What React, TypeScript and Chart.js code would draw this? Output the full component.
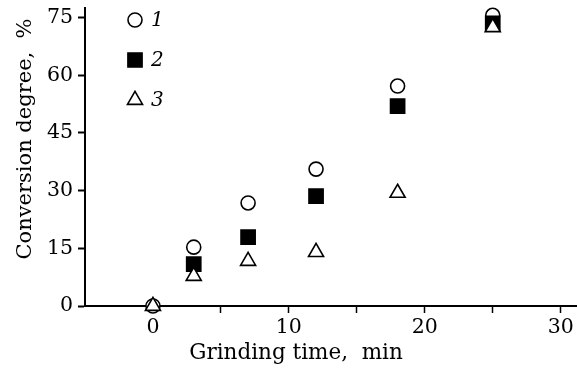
import React, { useEffect, useRef } from "react";
import { Chart, registerables } from "chart.js";

Chart.register(...registerables);

// Grinding time (min) and conversion degree (%)
const series1X = [0, 3, 7, 12, 18, 25];
const series1Y = [0, 15.3, 26.8, 35.6, 57.2, 75.6];
const series2X = [3, 7, 12, 18, 25];
const series2Y = [10.9, 17.9, 28.6, 52.0, 73.5];
const series3X = [0, 3, 7, 12, 18, 25];
const series3Y = [0, 7.8, 11.7, 14.0, 29.4, 72.5];

const seriesLabels = ["1", "2", "3"];
const xTicks = [0, 5, 10, 15, 20, 25, 30];
const xTickLabels = ["0", "", "10", "", "20", "", "30"];
const yTicks = [0, 15, 30, 45, 60, 75];
const xTitle = "Grinding time,  min";
const yTitle = "Conversion degree,  %";

const FONT = '"DejaVu Serif", serif';

const toPts = (xs: number[], ys: number[]) => xs.map((x, i) => ({ x, y: ys[i] }));

export default function App() {
  const ref = useRef<HTMLCanvasElement | null>(null);

  useEffect(() => {
    document.body.style.margin = "0";
    const canvas = ref.current;
    if (!canvas) return;

    const markerStyles = [
      { pointStyle: "circle", radius: 7, bg: "#fff" },
      { pointStyle: "rect", radius: 10, bg: "#000" },
      { pointStyle: "triangle", radius: 8.7, bg: "#fff" },
    ];

    function drawMarker(ctx: CanvasRenderingContext2D, style: string, r: number, x: number, y: number) {
      ctx.beginPath();
      if (style === "circle") {
        ctx.arc(x, y, r, 0, Math.PI * 2);
      } else if (style === "rect") {
        const s = Math.SQRT1_2 * r;
        ctx.rect(x - s, y - s, 2 * s, 2 * s);
      } else {
        const a = -Math.PI / 2;
        for (let k = 0; k < 3; k++) {
          const ang = a + (k * 2 * Math.PI) / 3;
          const px = x + Math.cos(ang) * r;
          const py = y + Math.sin(ang) * r;
          if (k === 0) ctx.moveTo(px, py);
          else ctx.lineTo(px, py);
        }
        ctx.closePath();
      }
      ctx.fill();
      ctx.stroke();
    }

    const legendPlugin = {
      id: "customLegendTitles",
      afterDraw(chart: any) {
        const ctx = chart.ctx;
        ctx.save();
        const lx = 135;
        const ly = [20, 60, 100];
        markerStyles.forEach((m, i) => {
          ctx.save();
          ctx.fillStyle = m.bg;
          ctx.strokeStyle = "#000";
          ctx.lineWidth = 1.6;
          drawMarker(ctx, m.pointStyle, m.radius, lx, ly[i]);
          ctx.restore();
          ctx.fillStyle = "#000";
          ctx.font = `italic 20px ${FONT}`;
          ctx.textAlign = "left";
          ctx.textBaseline = "middle";
          ctx.fillText(seriesLabels[i], 151, ly[i] + 1);
        });
        ctx.fillStyle = "#000";
        ctx.font = `21.5px ${FONT}`;
        ctx.textAlign = "center";
        ctx.textBaseline = "alphabetic";
        ctx.fillText(xTitle, 296, 359);
        ctx.save();
        ctx.font = `21px ${FONT}`;
        ctx.translate(31, 139);
        ctx.rotate(-Math.PI / 2);
        ctx.fillText(yTitle, 0, 0);
        ctx.restore();
        ctx.restore();
      },
    };

    const mk = (label: string, data: any[], i: number, order: number) => ({
      label,
      data,
      pointStyle: markerStyles[i].pointStyle,
      pointRadius: markerStyles[i].radius,
      pointBackgroundColor: markerStyles[i].bg,
      pointBorderColor: "#000",
      pointBorderWidth: 1.6,
      showLine: false,
      clip: false as any,
      order,
    });

    const chart = new Chart(canvas, {
      type: "scatter",
      data: {
        datasets: [
          mk(seriesLabels[0], toPts(series1X, series1Y), 0, 3),
          mk(seriesLabels[1], toPts(series2X, series2Y), 1, 2),
          mk(seriesLabels[2], toPts(series3X, series3Y), 2, 1),
        ],
      },
      options: {
        responsive: false,
        animation: false,
        layout: { autoPadding: false, padding: { top: 8, right: 0, left: 0, bottom: 0 } },
        plugins: { legend: { display: false }, tooltip: { enabled: false } },
        scales: {
          x: {
            type: "linear",
            min: -5,
            max: 31.2,
            afterBuildTicks: (axis: any) => {
              axis.ticks = xTicks.map((v) => ({ value: v }));
            },
            afterFit: (scale: any) => {
              scale.height = 63;
              scale.paddingRight = 0;
              scale.paddingLeft = 0;
            },
            ticks: {
              color: "#000",
              font: { family: FONT, size: 20.5 },
              padding: 2,
              maxRotation: 0,
              autoSkip: false,
              callback: (v: any) => {
                const i = xTicks.indexOf(Number(v));
                return i >= 0 ? xTickLabels[i] : "";
              },
            },
            grid: {
              drawOnChartArea: false,
              drawTicks: true,
              tickLength: 7,
              tickWidth: 1.5,
              tickColor: "#000",
            },
            border: { display: true, color: "#000", width: 2 },
          },
          y: {
            type: "linear",
            min: 0,
            max: 77.5,
            afterBuildTicks: (axis: any) => {
              axis.ticks = yTicks.map((v) => ({ value: v }));
            },
            afterFit: (scale: any) => {
              scale.width = 85;
              scale.paddingTop = 0;
              scale.paddingBottom = 0;
            },
            ticks: {
              color: "#000",
              font: { family: FONT, size: 20.5 },
              padding: 5,
              autoSkip: false,
            },
            grid: {
              drawOnChartArea: false,
              drawTicks: true,
              tickLength: 7,
              tickWidth: 2,
              tickColor: "#000",
            },
            border: { display: true, color: "#000", width: 2 },
          },
        },
      },
      plugins: [legendPlugin],
    } as any);

    return () => chart.destroy();
  }, []);

  return (
    <div style={{ position: "absolute", left: 0, top: 0, width: 577, height: 369, background: "#fff" }}>
      <canvas ref={ref} width={577} height={369} />
    </div>
  );
}
